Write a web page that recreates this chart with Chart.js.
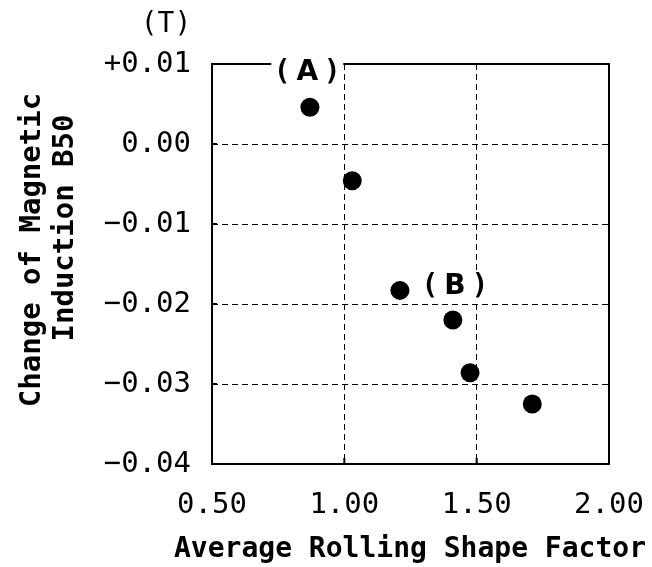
<!DOCTYPE html>
<html>
<head>
<meta charset="utf-8">
<script src="https://cdn.jsdelivr.net/npm/chart.js@4.4.1/dist/chart.umd.min.js"></script>
<style>
  html, body { margin: 0; padding: 0; background: #fff; }
  canvas { display: block; }
</style>
</head>
<body>
<canvas id="chart" width="652" height="567"></canvas>
<script>
// Average rolling shape factor vs change of magnetic induction B50
const shapeFactor = [0.87, 1.03, 1.21, 1.41, 1.475, 1.71];
const deltaB50 = [0.0046, -0.0046, -0.0183, -0.022, -0.0286, -0.0325];

const xTicks = [0.5, 1.0, 1.5, 2.0];
const xTickLabels = ['0.50', '1.00', '1.50', '2.00'];
const yTicks = [0.01, 0.0, -0.01, -0.02, -0.03, -0.04];
const yTickLabels = ['+0.01', '0.00', '\u22120.01', '\u22120.02', '\u22120.03', '\u22120.04'];

const noteLabels = ['(A)', '(B)'];
const noteX = [0.86, 1.418];
const noteY = [0.0089, -0.0179];

const FONT = "'DejaVu Sans Mono', 'Liberation Mono', monospace";

// frame, inward tick marks, titles, unit label and (A)/(B) notes
const framePlugin = {
    id: 'frame',
    afterDraw(chart) {
        const ctx = chart.ctx;
        const a = chart.chartArea;
        const xs = chart.scales.x;
        const ys = chart.scales.y;
        ctx.save();
        ctx.strokeStyle = '#000';
        ctx.lineWidth = 2;
        ctx.setLineDash([]);
        ctx.strokeRect(a.left, a.top, a.right - a.left, a.bottom - a.top);

        ctx.beginPath();
        yTicks.forEach(v => {
            const py = ys.getPixelForValue(v);
            ctx.moveTo(a.left, py);
            ctx.lineTo(a.left + 5, py);
        });
        xTicks.forEach(v => {
            const px = xs.getPixelForValue(v);
            ctx.moveTo(px, a.bottom);
            ctx.lineTo(px, a.bottom - 6);
        });
        ctx.stroke();

        ctx.fillStyle = '#000';
        ctx.textAlign = 'center';

        // unit
        ctx.font = "28px " + FONT;
        ctx.textBaseline = 'middle';
        ctx.fillText('(T)', 166, 25);

        // x title
        ctx.font = "bold 28px " + FONT;
        ctx.textBaseline = 'alphabetic';
        ctx.fillText('Average Rolling Shape Factor', 410, 557);

        // y title, two lines, rotated
        ctx.textBaseline = 'middle';
        ctx.font = "bold 29px " + FONT;
        ctx.save();
        ctx.translate(32, 250);
        ctx.rotate(-Math.PI / 2);
        ctx.fillText('Change of Magnetic', 0, 0);
        ctx.restore();
        ctx.save();
        ctx.translate(65, 228);
        ctx.rotate(-Math.PI / 2);
        ctx.fillText('Induction B50', 0, 0);
        ctx.restore();

        // notes with white background
        noteLabels.forEach((t, i) => {
            const cx = xs.getPixelForValue(noteX[i]);
            const cy = ys.getPixelForValue(noteY[i]);
            ctx.fillStyle = '#fff';
            ctx.fillRect(cx - 36, cy - 16, 72, 32);
            ctx.fillStyle = '#000';
            ctx.font = "bold 28px " + FONT;
            ctx.fillText(t[0], cx - 25, cy);
            ctx.fillText(t[2], cx + 25, cy);
            ctx.font = "bold 28px 'DejaVu Sans', sans-serif";
            ctx.fillText(t[1], cx, cy);
        });
        ctx.restore();
    }
};

new Chart(document.getElementById('chart'), {
    type: 'scatter',
    data: {
        datasets: [{
            data: shapeFactor.map((x, i) => ({ x: x, y: deltaB50[i] })),
            backgroundColor: '#000',
            borderWidth: 0,
            pointRadius: 9.5,
            pointHoverRadius: 9.5
        }]
    },
    options: {
        responsive: false,
        animation: false,
        devicePixelRatio: 1,
        layout: { padding: { top: 64, right: 43, left: 0, bottom: 0 } },
        plugins: {
            legend: { display: false },
            tooltip: { enabled: false }
        },
        scales: {
            x: {
                type: 'linear',
                position: 'bottom',
                min: 0.5,
                max: 2.0,
                afterBuildTicks: s => { s.ticks = xTicks.map(v => ({ value: v })); },
                afterFit: s => { s.height = 103; s.paddingLeft = 0; s.paddingRight = 0; },
                ticks: {
                    color: '#000',
                    padding: 24,
                    font: { family: FONT, size: 29 },
                    callback: (v, i) => xTickLabels[i]
                },
                grid: { color: '#000', lineWidth: 1, drawTicks: false },
                border: { display: false, dash: [6, 4] }
            },
            y: {
                type: 'linear',
                min: -0.04,
                max: 0.01,
                afterBuildTicks: s => { s.ticks = yTicks.map(v => ({ value: v })); },
                afterFit: s => { s.width = 212; s.paddingTop = 0; s.paddingBottom = 0; },
                ticks: {
                    color: '#000',
                    padding: 21,
                    font: { family: FONT, size: 29 },
                    callback: (v, i) => yTickLabels[i]
                },
                grid: { color: '#000', lineWidth: 1, drawTicks: false },
                border: { display: false, dash: [6, 4] }
            }
        }
    },
    plugins: [framePlugin]
});
</script>
</body>
</html>
